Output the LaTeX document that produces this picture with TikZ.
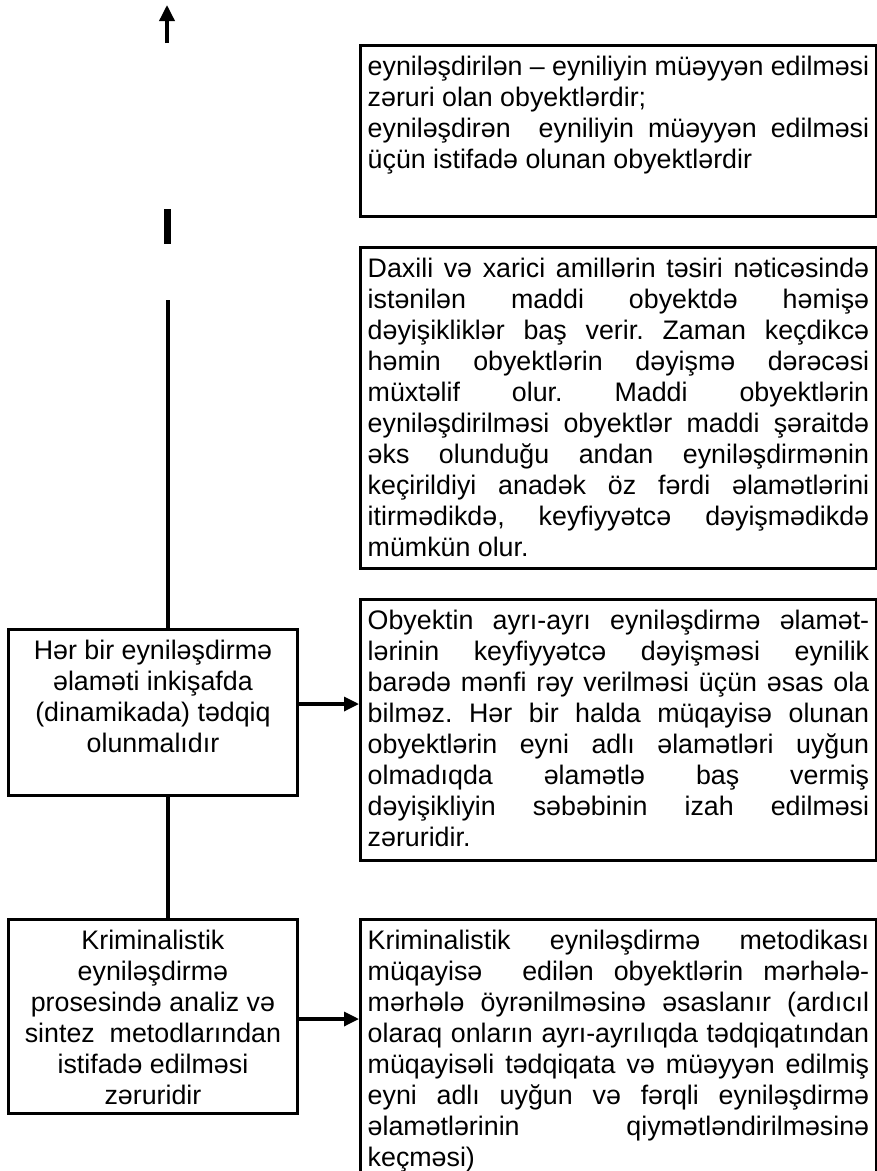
\documentclass[tikz,border=0pt]{standalone}
\usepackage{fontspec}
\setmainfont{Liberation Sans}
\usetikzlibrary{arrows.meta}
\frenchspacing
\newcommand{\jl}[1]{\makebox[\linewidth][s]{#1}}
\newcommand{\bx}[5]{%
\begin{minipage}[t][#2pt][t]{#1pt}%
\hspace*{#3pt}\begin{minipage}[t]{\dimexpr#1pt-#3pt-#3pt\relax}#4\fontsize{26.8pt}{31pt}\selectfont\frenchspacing\rule{0pt}{30pt}#5\end{minipage}%
\end{minipage}}
\begin{document}
\begin{tikzpicture}[x=1pt,y=-1pt,
  boxnode/.style={draw, line width=3.4pt, inner sep=0pt, anchor=north west},
  conn/.style={line width=3.3pt},
  arr/.style={line width=3.3pt, -{Triangle[length=15pt,width=14pt]}}]
\useasboundingbox (0,0) rectangle (877,1171);

% right column
\node[boxnode] (b1) at (359,44) {\bx{515.5}{171}{7}{}{%
\jl{eyniləşdirilən – eyniliyin müəyyən edilməsi}\\
zəruri olan obyektlərdir;\\
\jl{eyniləşdirən \ eyniliyin müəyyən edilməsi}\\
üçün istifadə olunan obyektlərdir}};

\node[boxnode] (b2) at (359,246) {\bx{515.5}{321}{7}{}{%
\jl{Daxili və xarici amillərin təsiri nəticəsində}\\
\jl{istənilən maddi obyektdə həmişə}\\
\jl{dəyişikliklər baş verir. Zaman keçdikcə}\\
\jl{həmin obyektlərin dəyişmə dərəcəsi}\\
\jl{müxtəlif olur. Maddi obyektlərin}\\
\jl{eyniləşdirilməsi obyektlər maddi şəraitdə}\\
\jl{əks olunduğu andan eyniləşdirmənin}\\
\jl{keçirildiyi anadək öz fərdi əlamətlərini}\\
\jl{itirmədikdə, keyfiyyətcə dəyişmədikdə}\\
mümkün olur.}};

\node[boxnode] (b3) at (359,598) {\bx{515.5}{261}{7}{}{%
\jl{Obyektin ayrı-ayrı eyniləşdirmə əlamət-}\\
\jl{lərinin keyfiyyətcə dəyişməsi eynilik}\\
\jl{barədə mənfi rəy verilməsi üçün əsas ola}\\
\jl{bilməz. Hər bir halda müqayisə olunan}\\
\jl{obyektlərin eyni adlı əlamətləri uyğun}\\
\jl{olmadıqda əlamətlə baş vermiş}\\
\jl{dəyişikliyin səbəbinin izah edilməsi}\\
zəruridir.}};

\node[boxnode] (b4) at (359,918) {\bx{515.5}{280}{7}{}{%
\jl{Kriminalistik eyniləşdirmə metodikası}\\
\jl{müqayisə \ edilən obyektlərin mərhələ-}\\
\jl{mərhələ öyrənilməsinə əsaslanır (ardıcıl}\\
\jl{olaraq onların ayrı-ayrılıqda tədqiqatından}\\
\jl{müqayisəli tədqiqata və müəyyən edilmiş}\\
\jl{eyni adlı uyğun və fərqli eyniləşdirmə}\\
\jl{əlamətlərinin qiymətləndirilməsinə}\\
keçməsi)}};

% left column
\node[boxnode] (lb1) at (7,628) {\bx{288.5}{166}{5}{\centering}{%
Hər bir eyniləşdirmə\\
əlaməti inkişafda\\
(dinamikada) tədqiq\\
olunmalıdır}};

\node[boxnode] (lb2) at (7,918) {\bx{288.5}{194}{5}{\centering}{%
Kriminalistik\\
eyniləşdirmə\\
prosesində analiz və\\
sintez \ metodlarından\\
istifadə edilməsi\\
zəruridir}};

% connectors
\coordinate (a0) at (167,43);
\coordinate (a1) at (167,5);
\draw[line width=3.5pt, -{Triangle[length=16pt,width=15pt]}] (a0) -- (a1);
\coordinate (bt) at (167.5,209);
\coordinate (bb) at (167.5,244);
\draw[line width=6.5pt] (bt) -- (bb);
\coordinate (lt) at (168,300);
\draw[conn] (lt) -- (lt |- lb1.north);
\draw[conn] (lt |- lb1.south) -- (lt |- lb2.north);
\coordinate (y1) at (0,704);
\coordinate (y2) at (0,1019);
\draw[arr] (lb1.east |- y1) -- (b3.west |- y1);
\draw[arr] (lb2.east |- y2) -- (b4.west |- y2);
\end{tikzpicture}
\end{document}
